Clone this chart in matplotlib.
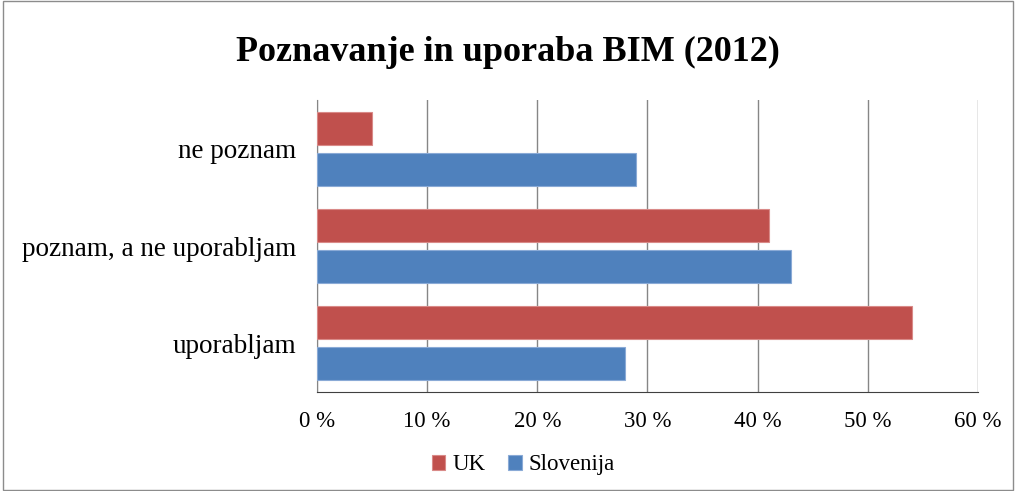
import matplotlib
matplotlib.use("Agg")
import matplotlib.pyplot as plt
import numpy as np
from matplotlib.patches import Rectangle

categories = ["ne poznam", "poznam, a ne uporabljam", "uporabljam"]
uk = [5, 41, 54]
slovenija = [29, 43, 28]
xticks = [0, 10, 20, 30, 40, 50, 60]
xticklabels = ["0 %", "10 %", "20 %", "30 %", "40 %", "50 %", "60 %"]

plt.rcParams['font.family'] = ['Liberation Serif', 'DejaVu Serif']

fig = plt.figure(figsize=(10.16, 4.91), dpi=100)
fig.patches.append(Rectangle((0.003, 0.003), 0.994, 0.994, transform=fig.transFigure,
                             fill=False, edgecolor='#8c8c8c', linewidth=1.0))
ax = fig.add_axes([0.312, 0.2016, 0.6506, 0.5947])

y = np.arange(len(categories))[::-1].astype(float)
h = 0.34
ax.barh(y + 0.21, uk, height=h, color='#c0504d', edgecolor='#d98a88', linewidth=0.8, label='UK', zorder=3)
ax.barh(y - 0.21, slovenija, height=h, color='#4f81bd', edgecolor='#8aaad6', linewidth=0.8, label='Slovenija', zorder=3)

ax.set_xlim(0, 60)
ax.set_ylim(-0.5, 2.5)
ax.set_xticks(xticks)
ax.set_xticklabels(xticklabels, fontsize=16.5)
ax.set_yticks(y)
ax.set_yticklabels(categories, fontsize=19.5)
ax.tick_params(axis='x', length=0, pad=14)
ax.tick_params(axis='y', length=0, pad=15)
ax.xaxis.grid(True, color='#868686', linewidth=1.0, zorder=0)
for s in ['top', 'right']:
    ax.spines[s].set_visible(False)
ax.spines['left'].set_color('#868686')
ax.spines['bottom'].set_color('#404040')

fig.text(0.5, 0.893, "Poznavanje in uporaba BIM (2012)", ha='center', va='center',
         fontsize=26, fontweight='bold')

fig.legend(loc='center', bbox_to_anchor=(0.515, 0.053), ncol=2, frameon=False,
           fontsize=16.5, handlelength=0.6, handleheight=0.6, handletextpad=0.3, columnspacing=1.0)

fig.savefig("out.png", dpi=100)
